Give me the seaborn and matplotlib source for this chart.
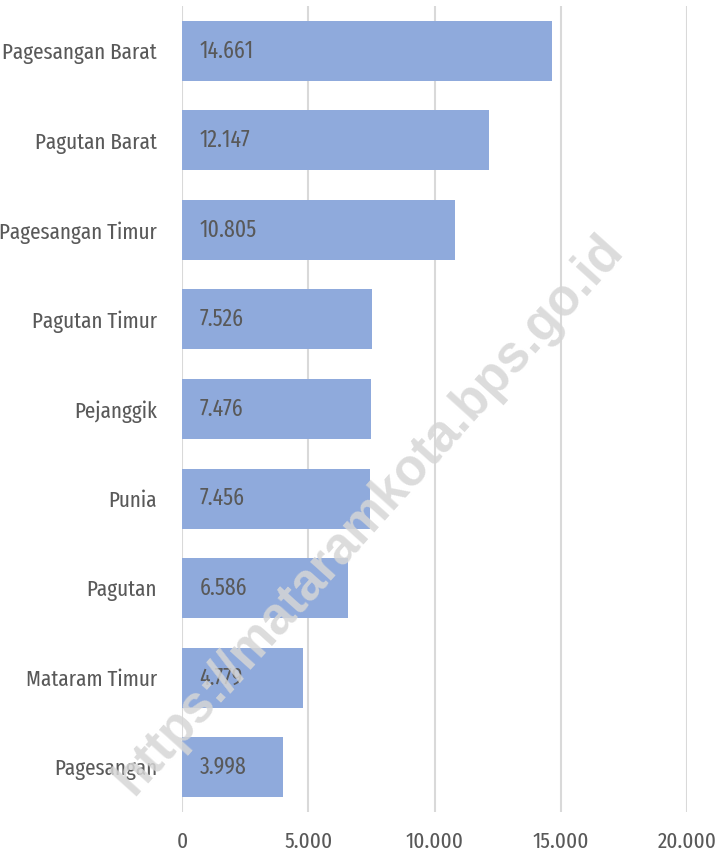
import matplotlib
matplotlib.use("Agg")
import matplotlib.pyplot as plt
import seaborn as sns
import pandas as pd
from matplotlib.ticker import FuncFormatter

categories = ["Pagesangan Barat", "Pagutan Barat", "Pagesangan Timur", "Pagutan Timur",
              "Pejanggik", "Punia", "Pagutan", "Mataram Timur", "Pagesangan"]
values = [14661, 12147, 10805, 7526, 7476, 7456, 6586, 4779, 3998]
value_labels = ["14.661", "12.147", "10.805", "7.526", "7.476", "7.456", "6.586", "4.779", "3.998"]
x_ticks = [0, 5000, 10000, 15000, 20000]

sns.set_theme(style="white")
plt.rcParams['font.family'] = ['Fira Sans Extra Condensed', 'DejaVu Sans']
plt.rcParams['font.weight'] = 'normal'

df = pd.DataFrame({"cat": categories, "val": values})

fig = plt.figure(figsize=(7.16, 8.61), dpi=100)
ax = fig.add_axes([0.2542, 0.0569, 0.7053, 0.9361])

sns.barplot(data=df, x="val", y="cat", color="#8FAADC", saturation=1, width=0.67, ax=ax, zorder=3)
for p in ax.patches:
    p.set_edgecolor("none")

ax.set_xlim(0, 20000)
ax.set_xticks(x_ticks)
ax.xaxis.set_major_formatter(FuncFormatter(lambda v, p: f"{int(v):,}".replace(",", ".")))
ax.grid(axis="x", color="#d9d9d9", linewidth=1.5, zorder=0)
ax.grid(axis="y", visible=False)
for s in ax.spines.values():
    s.set_visible(False)
ax.set_xlabel("")
ax.set_ylabel("")
ax.tick_params(axis="both", length=0, labelsize=16.5, labelcolor="#595959")
ax.tick_params(axis="y", pad=18)
ax.tick_params(axis="x", pad=14)

for i, lab in enumerate(value_labels):
    ax.text(700, i, lab, va="center", ha="left", fontsize=17, color="#595959", zorder=5)

fig.text(0.515, 0.402, "https://mataramkota.bps.go.id", rotation=48, ha="center", va="center",
         fontsize=37, fontweight="bold", color="#d6d6d6", alpha=0.85,
         family=["Liberation Sans", "DejaVu Sans"], zorder=10)

fig.savefig("out.png", dpi=100)
